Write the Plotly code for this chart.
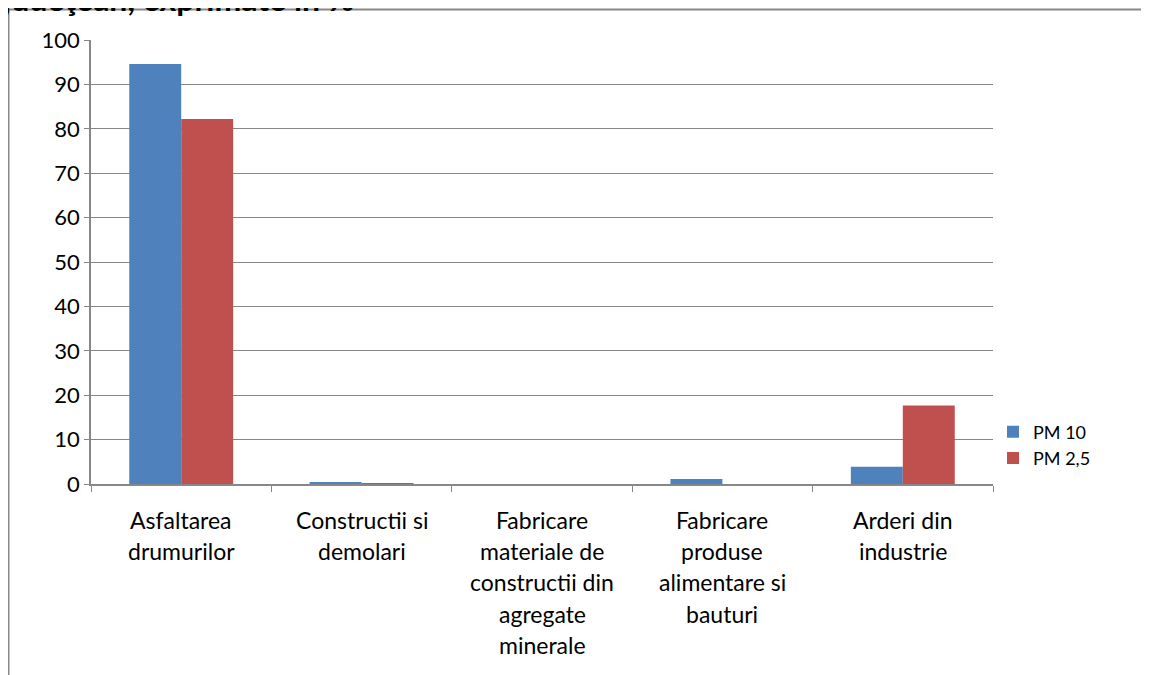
import plotly.graph_objects as go

categories = ["Asfaltarea drumurilor", "Constructii si demolari",
              "Fabricare materiale de constructii din agregate minerale",
              "Fabricare produse alimentare si bauturi", "Arderi din industrie"]
label_lines = [["Asfaltarea", "drumurilor"],
               ["Constructii si", "demolari"],
               ["Fabricare", "materiale de", "constructii din", "agregate", "minerale"],
               ["Fabricare", "produse", "alimentare si", "bauturi"],
               ["Arderi din", "industrie"]]
pm10 = [94.6, 0.35, 0.0, 1.1, 3.9]
pm25 = [82.2, 0.1, 0.0, 0.0, 17.7]
title_text = "judeţean, exprimate in %"

FONT = "Lato"
GRID = "#878787"
OFF = 8  # page body margin

W, H = 1141, 667
# plot area in window pixels: x 91..993, y 40..484
L, T = 91 - OFF, 40 - OFF
R = W - (993 - OFF)
B = H - (484 - OFF)
pw, ph = W - L - R, H - T - B

def px(xw):
    return (xw - OFF - L) / pw

def py(yw):
    return (H - B - (yw - OFF)) / ph

fig = go.Figure()
fig.add_bar(x=categories, y=pm10, name="PM 10", marker=dict(color="#4F81BD", line=dict(width=0)))
fig.add_bar(x=categories, y=pm25, name="PM 2,5", marker=dict(color="#C0504D", line=dict(width=0)))

annotations = []
for cat, lines in zip(categories, label_lines):
    for i, ln in enumerate(lines):
        annotations.append(dict(x=cat, xref="x", y=0, yref="paper", text=ln, showarrow=False,
                                yanchor="middle", xanchor="center", yshift=-36 - 31.2 * i,
                                font=dict(family=FONT, size=23, color="black")))
annotations.append(dict(x=px(0), y=py(19), xref="paper", yref="paper", xanchor="left", yanchor="bottom",
                        text="<b>" + title_text + "</b>", showarrow=False, borderpad=0,
                        font=dict(family=FONT, size=32, color="black")))

shapes = [
    dict(type="line", xref="paper", yref="paper", x0=px(8.5), x1=px(1160), y0=py(9.5), y1=py(9.5),
         line=dict(color="#888888", width=2)),
    dict(type="line", xref="paper", yref="paper", x0=px(8.5), x1=px(8.5), y0=py(9.5), y1=py(690),
         line=dict(color="#888888", width=2)),
]

fig.update_layout(
    width=W, height=H,
    margin=dict(l=L, r=R, t=T, b=B),
    paper_bgcolor="white", plot_bgcolor="white",
    barmode="group", bargap=0.424, bargroupgap=0,
    font=dict(family=FONT, size=18, color="black"),
    showlegend=True,
    legend=dict(x=px(993), y=py(445), xanchor="left", yanchor="middle",
                font=dict(family=FONT, size=18), itemwidth=30, tracegroupgap=0),
    annotations=annotations,
    shapes=shapes,
    xaxis=dict(showticklabels=False, showline=True, linecolor=GRID, linewidth=1.5,
               ticks="outside", ticklen=6, tickcolor=GRID, tickson="boundaries",
               showgrid=False, range=[-0.5, 4.5]),
    yaxis=dict(range=[0, 100], dtick=10, showgrid=True, gridcolor=GRID, gridwidth=1.3,
               showline=True, linecolor=GRID, linewidth=1.5, ticks="outside", ticklen=5,
               tickcolor=GRID, zeroline=False, tickfont=dict(family=FONT, size=22)),
)

fig.write_html("out.html")
